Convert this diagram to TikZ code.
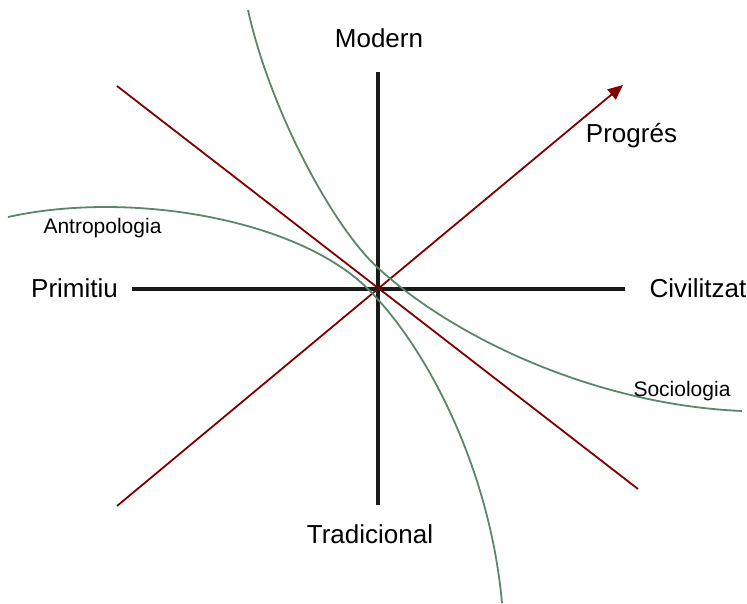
\documentclass[tikz,border=0pt]{standalone}
\usepackage{fontspec}
\setmainfont{Liberation Sans}
\usetikzlibrary{arrows.meta}
\definecolor{trendred}{RGB}{128,0,0}
\definecolor{fieldgreen}{RGB}{90,135,105}
\definecolor{axisblack}{RGB}{26,26,26}

\begin{document}
\begin{tikzpicture}[x=1pt, y=-1pt,
    axis/.style={draw=axisblack, line width=3.5pt},
    trend/.style={draw=trendred, line width=1.8pt},
    field/.style={draw=fieldgreen, line width=1.8pt},
    biglabel/.style={font=\fontsize{26}{30}\selectfont, anchor=base, inner sep=0pt},
    smalllabel/.style={font=\fontsize{21}{25}\selectfont, anchor=base, inner sep=0pt}]
  \useasboundingbox (0,0) rectangle (747,603);

  % Ends of the two axes
  \coordinate (axis_top) at (378,72);
  \coordinate (axis_bottom) at (378,505);
  \coordinate (axis_left) at (132,289);
  \coordinate (axis_right) at (625,289);

  % Ends of the two diagonals
  \coordinate (diag_tl) at (117,86);
  \coordinate (diag_br) at (638,489);
  \coordinate (prog_start) at (117,506);
  \coordinate (prog_end) at (623,85);

  % Axes
  \draw[axis] (axis_top) -- (axis_bottom);
  \draw[axis] (axis_left) -- (axis_right);

  % Diagonals
  \draw[trend] (diag_tl) -- (diag_br);
  \draw[trend, -{Triangle[length=15pt, width=13pt]}] (prog_start) -- (prog_end);

  % Disciplines as curves
  \draw[field] (248,10) .. controls (270,110) and (333,227) .. (378,268)
               .. controls (458,341) and (600,405) .. (742,411);
  \draw[field] (8,217) .. controls (130,190) and (298,219) .. (368,289)
               .. controls (428,349) and (490,470) .. (502,603);

  % Labels
  \node[biglabel] (modern) at (379,47) {Modern};
  \node[biglabel] (tradicional) at (370,543) {Tradicional};
  \node[biglabel] (primitiu) at (74.5,297) {Primitiu};
  \node[biglabel] (civilitzat) at (698,297) {Civilitzat};
  \node[biglabel] (progres) at (631.5,142) {Progrés};
  \node[smalllabel] (antropologia) at (102.5,233) {Antropologia};
  \node[smalllabel] (sociologia) at (682,396) {Sociologia};
\end{tikzpicture}
\end{document}
